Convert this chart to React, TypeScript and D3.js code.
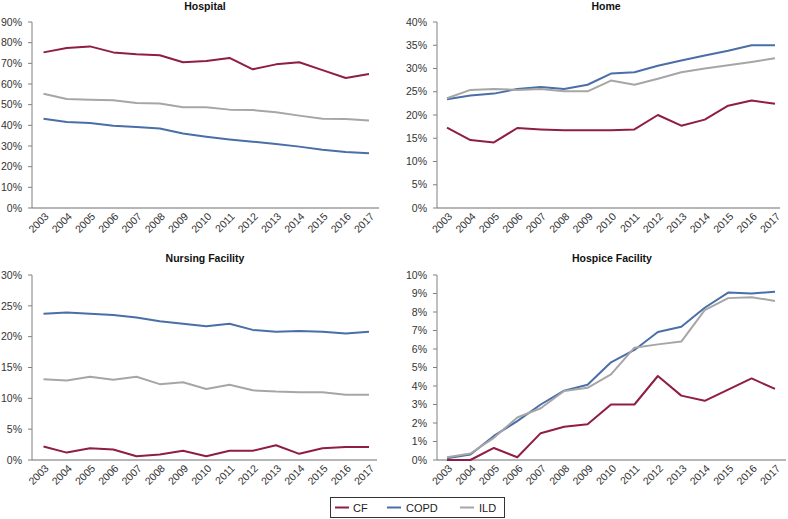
import React from "react";
import * as d3 from "d3";

const years = ["2003","2004","2005","2006","2007","2008","2009","2010","2011","2012","2013","2014","2015","2016","2017"];
const seriesNames = ["CF", "COPD", "ILD"];
const seriesColors = ["#8f1d45", "#4a6ea7", "#a6a6a6"];

const hospitalCF = [75.3, 77.4, 78.2, 75.3, 74.4, 73.9, 70.5, 71.1, 72.6, 67.1, 69.5, 70.5, 66.7, 62.9, 64.8];
const hospitalCOPD = [43.2, 41.6, 41.1, 39.8, 39.2, 38.5, 36.0, 34.5, 33.2, 32.1, 31.0, 29.7, 28.2, 27.1, 26.5];
const hospitalILD = [55.3, 52.7, 52.4, 52.1, 50.8, 50.6, 48.7, 48.7, 47.6, 47.4, 46.3, 44.7, 43.2, 43.1, 42.3];

const homeCF = [17.3, 14.6, 14.1, 17.2, 16.9, 16.7, 16.7, 16.7, 16.9, 20.0, 17.7, 19.0, 22.0, 23.1, 22.4];
const homeCOPD = [23.4, 24.2, 24.6, 25.6, 26.0, 25.6, 26.5, 28.9, 29.2, 30.6, 31.7, 32.8, 33.8, 35.0, 35.0];
const homeILD = [23.6, 25.4, 25.6, 25.4, 25.6, 25.1, 25.1, 27.4, 26.5, 27.8, 29.2, 30.0, 30.7, 31.4, 32.2];

const nursingCF = [2.2, 1.2, 1.9, 1.7, 0.6, 0.9, 1.5, 0.6, 1.5, 1.5, 2.4, 1.0, 1.9, 2.1, 2.1];
const nursingCOPD = [23.7, 23.9, 23.7, 23.5, 23.1, 22.5, 22.1, 21.7, 22.1, 21.1, 20.8, 20.9, 20.8, 20.5, 20.8];
const nursingILD = [13.1, 12.9, 13.5, 13.0, 13.5, 12.3, 12.6, 11.5, 12.2, 11.3, 11.1, 11.0, 11.0, 10.6, 10.6];

const hospiceCF = [0.0, 0.0, 0.65, 0.15, 1.45, 1.8, 1.93, 3.0, 3.0, 4.54, 3.48, 3.2, 3.8, 4.41, 3.84];
const hospiceCOPD = [0.1, 0.3, 1.3, 2.1, 3.0, 3.75, 4.07, 5.28, 5.95, 6.92, 7.2, 8.23, 9.05, 9.0, 9.1];
const hospiceILD = [0.15, 0.35, 1.2, 2.3, 2.8, 3.73, 3.9, 4.63, 6.07, 6.25, 6.4, 8.1, 8.75, 8.8, 8.6];

const panelTitles = ["Hospital", "Home", "Nursing Facility", "Hospice Facility"];
const panelYMax = [90, 40, 30, 10];
const panelYStep = [10, 5, 5, 1];
const panelData = [
  [hospitalCF, hospitalCOPD, hospitalILD],
  [homeCF, homeCOPD, homeILD],
  [nursingCF, nursingCOPD, nursingILD],
  [hospiceCF, hospiceCOPD, hospiceILD],
];

const FONT = "'Liberation Sans', Arial, Helvetica, sans-serif";

type Layout = { axisX: number; first: number; last: number; axisEnd: number; top: number; bottom: number; titleX: number; titleY: number };
const layouts: Layout[] = [
  { axisX: 32, first: 43.5, last: 369, axisEnd: 379, top: 22, bottom: 208, titleX: 205, titleY: 10 },
  { axisX: 437, first: 447, last: 775, axisEnd: 780, top: 22, bottom: 208, titleX: 606, titleY: 10 },
  { axisX: 32, first: 43.5, last: 369, axisEnd: 377, top: 275, bottom: 460, titleX: 205, titleY: 262 },
  { axisX: 437, first: 447, last: 775, axisEnd: 786, top: 275, bottom: 460, titleX: 612, titleY: 262 },
];

function Panel({ idx }: { idx: number }) {
  const L = layouts[idx];
  const x = d3.scalePoint<string>().domain(years).range([L.first, L.last]);
  const y = d3.scaleLinear().domain([0, panelYMax[idx]]).range([L.bottom, L.top]);
  const ticks = d3.range(0, panelYMax[idx] + 0.001, panelYStep[idx]);
  const line = d3
    .line<number>()
    .x((_, i) => x(years[i]) as number)
    .y((d) => y(d));
  return (
    <g>
      <text x={L.titleX} y={L.titleY} textAnchor="middle" fontFamily={FONT} fontSize={10.5} fontWeight="bold" fill="#111">
        {panelTitles[idx]}
      </text>
      {ticks.map((t) => (
        <g key={t}>
          <line x1={L.axisX - 4} x2={L.axisX} y1={y(t)} y2={y(t)} stroke="#808080" strokeWidth={1} />
          <text x={L.axisX - 10} y={y(t) + 3.7} textAnchor="end" fontFamily={FONT} fontSize={10.5} fill="#333">
            {t}%
          </text>
        </g>
      ))}
      <line x1={L.axisX} x2={L.axisX} y1={L.top} y2={L.bottom} stroke="#808080" strokeWidth={1} />
      <line x1={L.axisX} x2={L.axisEnd} y1={L.bottom} y2={L.bottom} stroke="#6f6f6f" strokeWidth={1.2} />
      {years.map((yr) => (
        <text
          key={yr}
          transform={`translate(${(x(yr) as number) + 6},${L.bottom + 9}) rotate(-45)`}
          textAnchor="end"
          fontFamily={FONT}
          fontSize={10.5}
          fill="#333"
        >
          {yr}
        </text>
      ))}
      {panelData[idx].map((vals, si) => (
        <path key={si} d={line(vals) || ""} fill="none" stroke={seriesColors[si]} strokeWidth={2} strokeLinejoin="round" />
      ))}
    </g>
  );
}

const legendLineX = [335, 387, 460];
const legendTextX = [353, 406, 479];

export default function App() {
  return (
    <svg width={788} height={519} style={{ position: "absolute", left: 0, top: 0, background: "#fff" }}>
      <rect x={0} y={0} width={788} height={519} fill="#fff" />
      {[0, 2, 1, 3].map((i) => (
        <Panel key={i} idx={i} />
      ))}
      <rect x={330.5} y={497.5} width={174} height={20} fill="#fff" stroke="#333" strokeWidth={1} />
      {seriesNames.map((n, i) => (
        <g key={n}>
          <line x1={legendLineX[i]} x2={legendLineX[i] + 14} y1={507.5} y2={507.5} stroke={seriesColors[i]} strokeWidth={2} />
          <text x={legendTextX[i]} y={511.5} fontFamily={FONT} fontSize={11} fill="#222">
            {n}
          </text>
        </g>
      ))}
    </svg>
  );
}
